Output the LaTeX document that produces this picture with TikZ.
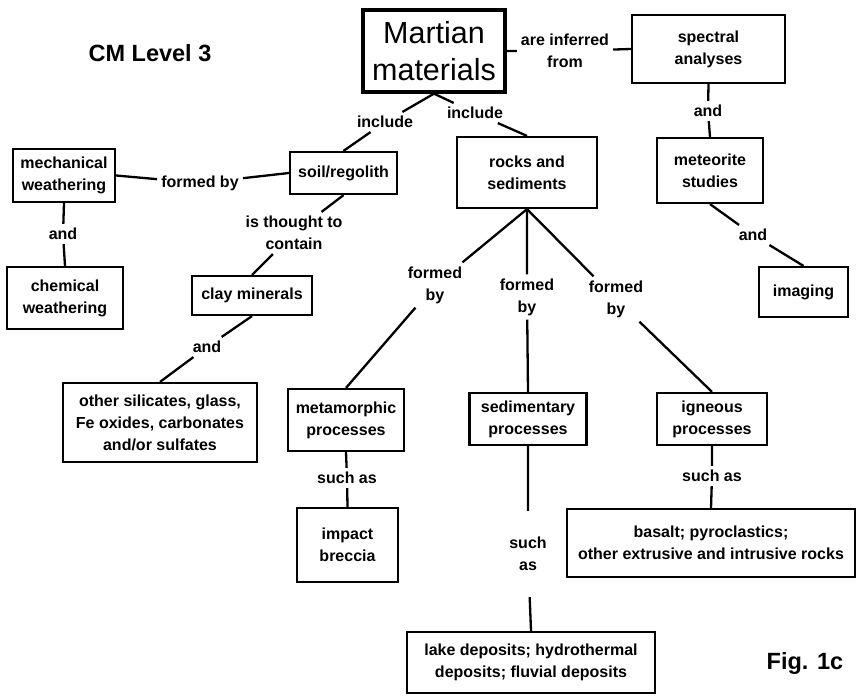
\documentclass[tikz,border=0pt]{standalone}
\usepackage{fontspec}
\setmainfont{Liberation Sans}
\begin{document}
\begin{tikzpicture}[x=1pt,y=-1pt,
  box/.style={draw,line width=2.2pt,inner sep=0pt,align=center,
    font=\bfseries\fontsize{16}{22}\selectfont},
  lbl/.style={inner sep=4pt,align=center,
    font=\bfseries\fontsize{16}{22}\selectfont},
  conn/.style={line width=2.3pt},
  title/.style={inner sep=0pt,font=\bfseries\fontsize{23.5}{27}\selectfont}]
\useasboundingbox (0,0) rectangle (859,697);
% boxes
\node[box,line width=3.3pt,minimum width=142pt,minimum height=82pt,
  font=\fontsize{30.5}{37}\selectfont] (mart) at (434,51) {Martian\\materials};
\node[box,minimum width=153pt,minimum height=68pt] (spec) at (708.5,49) {spectral\\analyses};
\node[box,minimum width=106pt,minimum height=65pt] (met) at (710,170.5) {meteorite\\studies};
\node[box,minimum width=89pt,minimum height=50pt] (img) at (803.5,292) {imaging};
\node[box,minimum width=107pt,minimum height=42pt] (soil) at (343.5,173) {soil/regolith};
\node[box,minimum width=102pt,minimum height=53pt] (mech) at (64,175.5) {mechanical\\weathering};
\node[box,minimum width=116pt,minimum height=62pt] (chem) at (65,298) {chemical\\weathering};
\node[box,minimum width=120pt,minimum height=39pt] (clay) at (252,295.5) {clay minerals};
\node[box,minimum width=194pt,minimum height=79pt] (other) at (160,422.5) {other silicates, glass,\\Fe oxides, carbonates\\and/or sulfates};
\node[box,minimum width=140pt,minimum height=71pt] (rocks) at (527,172.5) {rocks and\\sediments};
\node[box,minimum width=116pt,minimum height=62pt] (meta) at (346,420) {metamorphic\\processes};
\node[box,minimum width=101pt,minimum height=74pt] (impact) at (347.5,545) {impact\\breccia};
\node[box,minimum width=117pt,minimum height=52pt] (sed) at (528,419) {sedimentary\\processes};
\node[box,minimum width=110pt,minimum height=52pt] (ign) at (712,419) {igneous\\processes};
\node[box,minimum width=288pt,minimum height=68pt] (basalt) at (711,543) {basalt; pyroclastics;\\other extrusive and intrusive rocks};
\node[box,minimum width=248pt,minimum height=61pt] (lake) at (531,662.5) {lake deposits; hydrothermal\\deposits; fluvial deposits};
% link labels
\node[lbl] (inclL) at (385,122) {include};
\node[lbl] (inclR) at (475,113) {include};
\node[lbl] (infer) at (565,51) {are inferred\\from};
\node[lbl] (and1) at (708,111) {and};
\node[lbl] (and2) at (753,235) {and};
\node[lbl] (fb1) at (200,183) {formed by};
\node[lbl] (and3) at (63,234) {and};
\node[lbl] (thought) at (294,233) {is thought to\\contain};
\node[lbl] (and4) at (207,347) {and};
\node[lbl] (fbL) at (435,285) {formed\\by};
\node[lbl] (fbM) at (527,297) {formed\\by};
\node[lbl] (fbR) at (616,299) {formed\\by};
\node[lbl] (suchM) at (347,478) {such as};
\node[lbl,inner ysep=26pt] (suchS) at (528,554) {such\\as};
\node[lbl] (suchI) at (712,476) {such as};
% titles
\node[title] (cm) at (150,53) {CM Level 3};
\node[title] (fig) at (805,663) {Fig. 1c};
% connectors
\draw[conn] (mart.south) -- (inclL) -- (soil.north);
\draw[conn] (mart.south) -- (inclR) -- (rocks.north);
\draw[conn] (mart.east) -- (infer) -- (spec.west);
\draw[conn] (spec.south) -- (and1) -- (met.north);
\draw[conn] (met.south) -- (and2) -- (img.north);
\draw[conn] (mech.east) -- (fb1) -- (soil.west);
\draw[conn] (mech.south) -- (and3) -- (chem.north);
\draw[conn] (soil.south) -- (thought) -- (clay.north);
\draw[conn] (clay.south) -- (and4) -- (other.north);
\draw[conn] (rocks.south) -- (fbL) -- (meta.north);
\draw[conn] (rocks.south) -- (fbM) -- (sed.north);
\draw[conn] (rocks.south) -- (fbR) -- (ign.north);
\draw[conn] (meta.south) -- (suchM) -- (impact.north);
\draw[conn] (sed.south) -- (suchS) -- (lake.north);
\draw[conn] (ign.south) -- (suchI) -- (basalt.north);
\end{tikzpicture}
\end{document}
